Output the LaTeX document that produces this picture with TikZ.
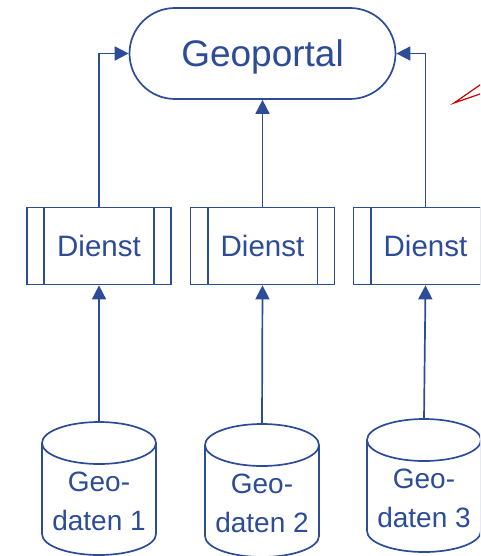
\documentclass[tikz,border=0pt]{standalone}
\usepackage{fontspec}
\setmainfont{Liberation Sans}
\usetikzlibrary{arrows.meta}
\definecolor{ink}{RGB}{44,76,152}
\definecolor{pointer}{RGB}{204,0,0}
\begin{document}
\begin{tikzpicture}[x=1pt,y=-1pt,
  outline/.style={draw=ink, line width=1.7pt},
  conn/.style={draw=ink, line width=1.7pt, -{Triangle[length=14pt,width=14pt]}},
  portal/.style={outline, rectangle, rounded corners=45.5pt, minimum width=266pt,
    minimum height=91pt, inner sep=0pt, text height=26pt, text depth=0pt,
    text=ink, font=\fontsize{37}{42}\selectfont},
  servicebox/.style={outline, rectangle, minimum width=144pt, minimum height=77pt,
    inner sep=0pt, text=ink, font=\fontsize{29.5}{34}\selectfont},
  dbtext/.style={align=center, inner sep=0pt, text=ink, font=\fontsize{28}{39}\selectfont}]
\useasboundingbox (0,0) rectangle (480,556);
\clip (0,0) rectangle (480,556);

% portal
\node[portal] (geo) at (262.5,53.5) {Geoportal};

% services, each with two inner bars
\foreach \n/\x in {d1/99, d2/262.5, d3/425.5} {
  \node[servicebox] (\n) at (\x,246) {Dienst};
  \draw[outline] ([xshift=18pt]\n.north west) -- ([xshift=18pt]\n.south west);
  \draw[outline] ([xshift=-18pt]\n.north east) -- ([xshift=-18pt]\n.south east);
}

% data stores (cylinders)
\foreach \n/\x/\t/\lab in {g1/99/422/1, g2/262/424/2, g3/424/419/3} {
  \draw[outline] (\x,\t+21) ellipse [x radius=57, y radius=21];
  \draw[outline] (\x-57,\t+21) -- (\x-57,\t+112)
    arc[start angle=180, end angle=0, x radius=57, y radius=21] -- (\x+57,\t+21);
  \coordinate (\n top) at (\x,\t);
  \node[dbtext] (\n) at (\x,\t+79) {Geo-\\daten \lab};
}

% connectors
\draw[conn] (d1.north) |- (geo.west);
\draw[conn] (d2.north) -- (geo.south);
\draw[conn] (d3.north) |- (geo.east);
\draw[conn] (g1top) -- (d1.south);
\draw[conn] (g2top) -- (d2.south);
\draw[conn] (g3top) -- (d3.south);

% red pointer
\coordinate (tip) at (454,103);
\draw[pointer, line width=1.2pt] (485,81.5) -- (tip) -- (485,92.3);
\end{tikzpicture}
\end{document}
